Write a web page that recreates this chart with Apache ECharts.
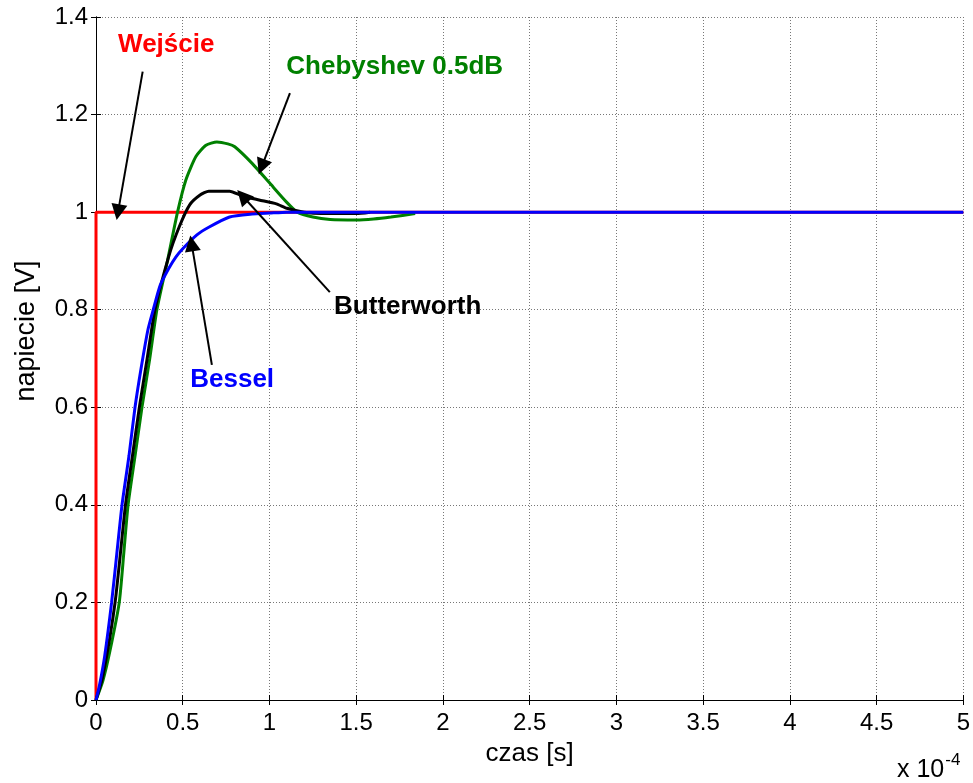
<!DOCTYPE html>
<html>
<head>
<meta charset="utf-8">
<script src="https://cdn.jsdelivr.net/npm/echarts@6/dist/echarts.min.js"></script>
<style>
html,body{margin:0;padding:0;background:#fff;}
#chart{width:973px;height:783px;}
</style>
</head>
<body>
<div id="chart"></div>
<script>
// time axis in units of 1e-4 s
const xTicks = [0, 0.5, 1, 1.5, 2, 2.5, 3, 3.5, 4, 4.5, 5];
const yTicks = [0, 0.2, 0.4, 0.6, 0.8, 1, 1.2, 1.4];

const inputX = [0, 0, 5];
const inputY = [0, 1, 1];

const chebyshevX = [0, 0.04, 0.08, 0.134, 0.16, 0.185, 0.225, 0.265, 0.31, 0.351, 0.413, 0.47, 0.518, 0.576, 0.634, 0.697, 0.76, 0.8, 0.9, 1.0, 1.1, 1.16, 1.25, 1.35, 1.5, 1.6, 1.7, 1.84];
const chebyshevY = [0, 0.04, 0.1, 0.2, 0.3, 0.4, 0.5, 0.6, 0.7, 0.8, 0.902, 1.0, 1.066, 1.114, 1.137, 1.144, 1.14, 1.134, 1.10, 1.06, 1.02, 1.0, 0.99, 0.985, 0.984, 0.986, 0.99, 0.997];

const butterworthX = [0, 0.04, 0.11, 0.17, 0.21, 0.25, 0.295, 0.34, 0.42, 0.48, 0.54, 0.6, 0.65, 0.77, 0.845, 0.94, 1.04, 1.1, 1.2, 1.3, 1.5, 1.58];
const butterworthY = [0, 0.05, 0.2, 0.4, 0.5, 0.6, 0.7, 0.8, 0.91, 0.97, 1.015, 1.035, 1.043, 1.043, 1.033, 1.025, 1.017, 1.008, 1.0, 0.997, 0.997, 1.0];

const besselX = [0, 0.02, 0.05, 0.09, 0.12, 0.15, 0.19, 0.225, 0.26, 0.3, 0.33, 0.37, 0.42, 0.46, 0.5, 0.58, 0.65, 0.77, 0.9, 1.0, 1.1, 5];
const besselY = [0, 0.03, 0.09, 0.2, 0.3, 0.4, 0.5, 0.6, 0.68, 0.76, 0.8, 0.85, 0.885, 0.908, 0.925, 0.953, 0.969, 0.99, 0.996, 0.998, 1.0, 1.0];

const labelNames = ['Wejście', 'Chebyshev 0.5dB', 'Butterworth', 'Bessel'];
const labelColors = ['#ff0000', '#008000', '#000000', '#0000ff'];
const labelX = [0.405, 1.722, 1.797, 0.785];
const labelY = [1.342, 1.297, 0.805, 0.656];
const arrowFrom = [[0.269, 1.288], [1.118, 1.244], [1.348, 0.836], [0.668, 0.687]];
const arrowTo = [[0.127, 1.0], [0.955, 1.093], [0.845, 1.033], [0.551, 0.936]];

const zip = (xs, ys) => xs.map((x, i) => [x, ys[i]]);

const chart = echarts.init(document.getElementById('chart'));
const font = '"Liberation Sans", Arial, sans-serif';

const axisCommon = {
  type: 'value',
  axisLine: { show: true, lineStyle: { color: '#000', width: 1 } },
  axisTick: { show: true, inside: true, length: 5, lineStyle: { color: '#000' } },
};

const lineCommon = { type: 'line', showSymbol: false, smooth: 0.2, emphasis: { disabled: true } };

const option = {
  animation: false,
  backgroundColor: '#fff',
  grid: { left: 96, right: 9, top: 17, bottom: 83 },
  xAxis: [
    Object.assign({}, axisCommon, {
      min: 0, max: 5, interval: 0.5, position: 'bottom',
      axisLabel: { color: '#000', fontSize: 24, fontFamily: font, margin: 11 },
      splitLine: { show: true, lineStyle: { type: [1, 2], color: '#777', width: 1 } },
      name: 'czas [s]', nameLocation: 'middle', nameGap: 41,
      nameTextStyle: { color: '#000', fontSize: 26, fontFamily: font }
    }),
    Object.assign({}, axisCommon, {
      min: 0, max: 5, interval: 0.5, position: 'top',
      axisLabel: { show: false }, splitLine: { show: false }
    })
  ],
  yAxis: [
    Object.assign({}, axisCommon, {
      min: 0, max: 1.4, interval: 0.2, position: 'left',
      axisLabel: { color: '#000', fontSize: 24, fontFamily: font, margin: 8 },
      splitLine: { show: true, lineStyle: { type: [1, 2], color: '#777', width: 1 } }
    }),
    Object.assign({}, axisCommon, {
      min: 0, max: 1.4, interval: 0.2, position: 'right',
      axisLabel: { show: false }, splitLine: { show: false }
    })
  ],
  graphic: [
    {
      type: 'text',
      x: 27, y: 331, rotation: Math.PI / 2,
      style: { text: 'napiecie [V]', fill: '#000', font: '27px ' + font, textAlign: 'center', textVerticalAlign: 'middle' }
    },
    {
      type: 'text',
      x: 897, y: 752,
      style: {
        text: '{a|x 10}{b|-4}',
        rich: {
          a: { fontSize: 25, fontFamily: font, fill: '#000', verticalAlign: 'bottom' },
          b: { fontSize: 17, fontFamily: font, fill: '#000', verticalAlign: 'top', padding: [0, 0, 14, 1] }
        }
      }
    }
  ],
  series: [
    Object.assign({}, lineCommon, {
      name: 'Wejście', data: zip(inputX, inputY), smooth: false, clip: false,
      lineStyle: { color: '#ff0000', width: 3 }, z: 2
    }),
    Object.assign({}, lineCommon, {
      name: 'Chebyshev', data: zip(chebyshevX, chebyshevY),
      lineStyle: { color: '#008000', width: 3 }, z: 3
    }),
    Object.assign({}, lineCommon, {
      name: 'Butterworth', data: zip(butterworthX, butterworthY),
      lineStyle: { color: '#000', width: 3 }, z: 4
    }),
    Object.assign({}, lineCommon, {
      name: 'Bessel', data: zip(besselX, besselY),
      lineStyle: { color: '#0000ff', width: 3 }, z: 5
    }),
    {
      type: 'lines', coordinateSystem: 'cartesian2d', z: 6,
      symbol: ['none', 'triangle'], symbolSize: 16,
      lineStyle: { color: '#000', width: 2, opacity: 1 },
      emphasis: { disabled: true },
      data: arrowFrom.map((f, i) => ({ coords: [f, arrowTo[i]] }))
    },
    {
      type: 'scatter', symbolSize: 0, z: 7,
      itemStyle: { opacity: 1 },
      emphasis: { disabled: true },
      data: labelNames.map((n, i) => ({
        value: [labelX[i], labelY[i]],
        label: {
          show: true, position: 'inside', formatter: n, opacity: 1,
          color: labelColors[i], fontSize: 26, fontWeight: 'bold', fontFamily: font
        }
      }))
    }
  ]
};
chart.setOption(option);
</script>
</body>
</html>
